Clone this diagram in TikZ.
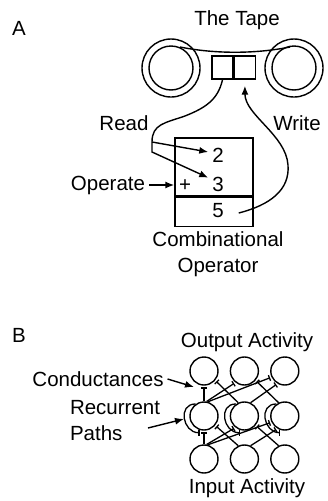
\documentclass[tikz,border=0pt]{standalone}
\usepackage{fontspec}
\setmainfont{Liberation Sans}
\usetikzlibrary{arrows.meta,positioning}

\begin{document}
\begin{tikzpicture}[x=1pt,y=1pt,line width=1.4pt,font=\fontsize{20.5}{26}\selectfont]

\tikzstyle{cell} = [rectangle, draw, minimum width=21pt, minimum height=23pt, inner sep=0pt]
\tikzstyle{opbox} = [rectangle, draw, minimum width=78pt, inner sep=0pt]
\tikzstyle{neuron} = [circle, draw, minimum size=28pt, inner sep=0pt]
\tikzstyle{line} = [draw, -{Latex[length=9pt,width=7pt]}]
\tikzstyle{syn} = [draw, line width=1.3pt, shorten >=1.5pt, -{Bar[width=6pt]}]

\useasboundingbox (0,0) rectangle (327,-501);

% A: the tape machine
\node (labA) at (19,-28) {A};
\node (tape) at (237,-20) {The Tape};
\draw (171,-68) circle (29) (171,-68) circle (22);
\draw (294,-68) circle (29) (294,-68) circle (22);
\draw (180,-47) .. controls (215,-54) and (255,-54) .. (290,-47);

\node [cell] (cellL) at (222.5,-67.5) {};
\node [cell, right=0pt of cellL] (cellR) {};

\node [opbox, minimum height=58pt] (opUp) at (214,-167) {};
\node [opbox, minimum height=29pt, below=0pt of opUp] (opLow) {};
\node (two) at (218,-155) {2};
\node (three) at (218,-184) {3};
\node (plus) at (185,-186) {+};
\node (five) at (218,-211) {5};
\node [align=center] (opname) at (218,-254) {Combinational\\Operator};

\node (read) at (124,-123) {Read};
\node (write) at (297,-123) {Write};
\node (operate) at (108,-185) {Operate};

\path [line] (operate.east) -- (opUp.west |- operate.east);

\coordinate (split) at (152,-142);
\draw (cellL.south) .. controls (218,-100) and (205,-108) .. (185,-116)
  .. controls (165,-123) and (152,-124) .. (split);
\path [line] (split) -- ([yshift=3]two.west);
\path [line] (split) -- ++(0,-10) -- ([yshift=-5]three.north west);
\path [line] ([shift={(11,-2)}]five.east) .. controls (270,-205) and (290,-190) .. (288,-165)
  .. controls (286,-135) and (245,-115) .. ([yshift=-6]cellR.south);

% B: the network
\node (labB) at (19,-335) {B};
\node (outact) at (247,-342) {Output Activity};
\node (inact) at (247,-488) {Input Activity};

\node [neuron] (t1) at (204,-371) {};
\node [neuron, right=11pt of t1] (t2) {};
\node [neuron, right=11pt of t2] (t3) {};
\node [neuron] (m1) at (204,-416) {};
\node [neuron, right=11pt of m1] (m2) {};
\node [neuron, right=11pt of m2] (m3) {};
\node [neuron] (b1) at (204,-459) {};
\node [neuron, right=11pt of b1] (b2) {};
\node [neuron, right=11pt of b2] (b3) {};

% conductances, middle to output
\path [syn] (m1.north) -- (t1.south);
\path [syn] (m1.80) -- (t2.232);
\path [syn] (m1.75) -- (t3.205);
\path [syn] (m2.115) -- (t1.-40);
\path [syn] (m2.65) -- (t3.240);
\path [syn] (m3.115) -- (t2.-40);
% conductances, input to middle
\path [syn] (b1.north) -- (m1.south);
\path [syn] (b1.80) -- (m2.232);
\path [syn] (b1.75) -- (m3.205);
\path [syn] (b2.115) -- (m1.-40);
\path [syn] (b2.65) -- (m3.240);
\path [syn] (b3.115) -- (m2.-40);
% recurrent paths
\path [syn] (m1.125) to[out=180,in=180,looseness=1.6] ([shift={(-3,-2)}]m1.south);
\path [syn] (m2.125) to[out=180,in=180,looseness=1.6] ([shift={(-3,-2)}]m2.south);
\path [syn] (m3.125) to[out=180,in=180,looseness=1.6] ([shift={(-3,-2)}]m3.south);

\node (cond) at (98,-379) {Conductances};
\node [align=left, anchor=west] (recur) at (66,-421) {Recurrent\\Paths};
\coordinate (condEnd) at (194,-387);
\coordinate (recStart) at (148,-428);
\coordinate (loopL) at (184,-419);
\path [line] (cond.east) -- (condEnd);
\path [line] (recStart) -- (loopL);

\end{tikzpicture}
\end{document}
